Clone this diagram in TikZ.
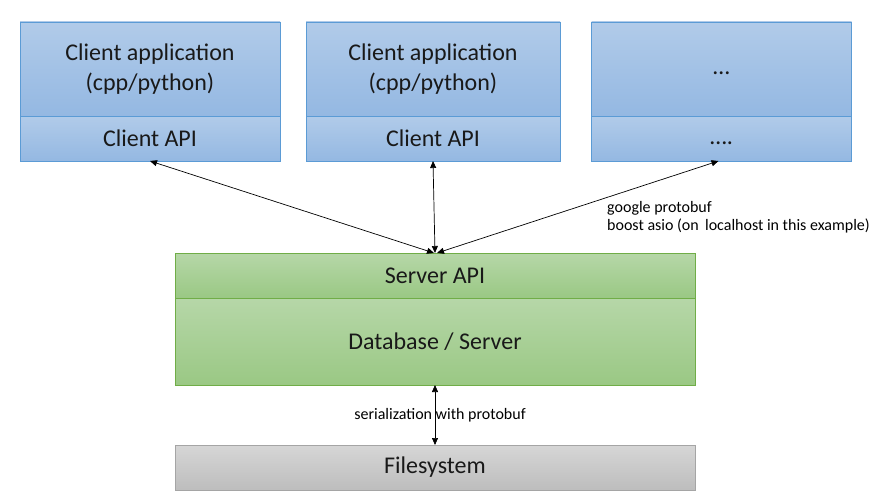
\documentclass[tikz,border=0pt]{standalone}
\usepackage{fontspec}
\setmainfont{Carlito}
\usetikzlibrary{arrows.meta}
\definecolor{blueTop}{HTML}{B1CBE9}
\definecolor{blueBot}{HTML}{94B8E2}
\definecolor{blueLine}{HTML}{5B9BD5}
\definecolor{greenTop}{HTML}{B6D7A8}
\definecolor{greenBot}{HTML}{9AC884}
\definecolor{greenLine}{HTML}{70AD47}
\definecolor{grayTop}{HTML}{D6D6D6}
\definecolor{grayBot}{HTML}{BDBDBD}
\definecolor{grayLine}{HTML}{A5A5A5}
\tikzset{
  x=1pt, y=-1pt,
  part/.style={rectangle, inner sep=0pt, outer sep=0pt, line width=0.8pt, align=center,
    font=\fontsize{24}{30}\selectfont, text=black!90},
  bluepart/.style={part, draw=blueLine, top color=blueTop, bottom color=blueBot},
  greenpart/.style={part, draw=greenLine, top color=greenTop, bottom color=greenBot},
  graypart/.style={part, draw=grayLine, top color=grayTop, bottom color=grayBot},
  conn/.style={line width=0.7pt, {Triangle[length=7pt,width=6pt]}-{Triangle[length=7pt,width=6pt]}},
  smalllabel/.style={font=\fontsize{16}{18}\selectfont, align=left, inner sep=0pt}
}
\begin{document}
\begin{tikzpicture}
\useasboundingbox (0,0) rectangle (886,503);
% clients
\node[bluepart, minimum width=260pt, minimum height=94pt] (c1app) at (150,69) {\raisebox{-2pt}{Client application}\\\raisebox{-2pt}{(cpp/python)}};
\node[bluepart, minimum width=260pt, minimum height=45pt] (c1api) at (150,138.5) {Client API};
\node[bluepart, minimum width=254pt, minimum height=94pt] (c2app) at (433,69) {\raisebox{-2pt}{Client application}\\\raisebox{-2pt}{(cpp/python)}};
\node[bluepart, minimum width=254pt, minimum height=45pt] (c2api) at (433,138.5) {Client API};
\node[bluepart, minimum width=260pt, minimum height=94pt] (c3app) at (721.5,69) {\vphantom{Ag}…};
\node[bluepart, minimum width=260pt, minimum height=45pt] (c3api) at (721.5,138.5) {\vphantom{Ag}….};
% server
\node[greenpart, minimum width=520pt, minimum height=45pt] (srvapi) at (435,275.5) {\raisebox{-1pt}{Server API}};
\node[greenpart, minimum width=520pt, minimum height=87pt] (db) at (435,341.5) {Database / Server};
% filesystem
\node[graypart, minimum width=520pt, minimum height=45pt] (fs) at (435,467.5) {\raisebox{-2pt}{Filesystem}};
% connectors
\draw[conn] (c1api.south) -- ([xshift=-1pt]srvapi.north);
\draw[conn] (c2api.south) -- (srvapi.north);
\draw[conn] ([xshift=-3pt]c3api.south) -- ([xshift=2pt]srvapi.north);
\draw[conn] (db.south) -- (fs.north);
% labels
\node[smalllabel, anchor=north west] (lbl1) at (607,201) {google protobuf\\boost asio (on\, localhost in this example)};
\node[smalllabel, anchor=center] (lbl2) at (440,415) {serialization with protobuf};
\end{tikzpicture}
\end{document}
